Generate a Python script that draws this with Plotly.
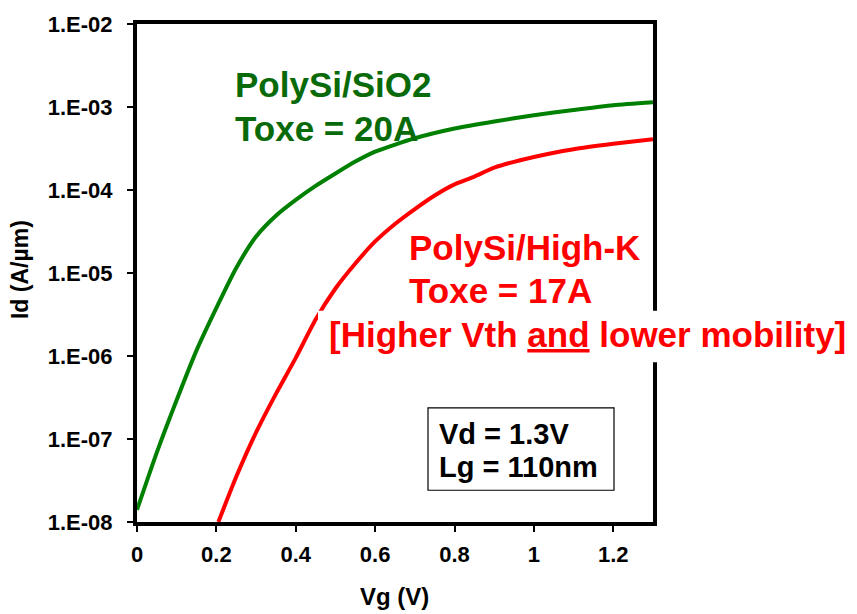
import plotly.graph_objects as go

# Transfer curves Id-Vg at Vd = 1.3 V, Lg = 110 nm
vg_sio2 = [0.0, 0.05, 0.1, 0.15, 0.2, 0.25, 0.3, 0.35, 0.4, 0.45, 0.5, 0.55,
           0.6, 0.7, 0.8, 0.9, 1.0, 1.1, 1.2, 1.3]
id_sio2 = [1.4e-8, 6.9e-8, 2.95e-7, 1.17e-6, 3.8e-6, 1.15e-5, 2.75e-5, 4.9e-5,
           7.6e-5, 1.12e-4, 1.58e-4, 2.2e-4, 2.9e-4, 4.2e-4, 5.5e-4, 6.7e-4,
           7.96e-4, 9.2e-4, 1.05e-3, 1.14e-3]

vg_highk = [0.205, 0.25, 0.3, 0.35, 0.4, 0.45, 0.5, 0.55, 0.6, 0.65, 0.7,
            0.75, 0.8, 0.85, 0.9, 1.0, 1.1, 1.2, 1.3]
id_highk = [1.0e-8, 3.5e-8, 1.2e-7, 3.5e-7, 9.5e-7, 2.75e-6, 6.5e-6, 1.3e-5,
            2.4e-5, 3.9e-5, 5.9e-5, 8.6e-5, 1.17e-4, 1.45e-4, 1.86e-4, 2.5e-4,
            3.1e-4, 3.6e-4, 4.1e-4]

x_tickvals = [0, 0.2, 0.4, 0.6, 0.8, 1.0, 1.2]
x_ticktext = ["0", "0.2", "0.4", "0.6", "0.8", "1", "1.2"]
y_tickvals = [1e-8, 1e-7, 1e-6, 1e-5, 1e-4, 1e-3, 1e-2]
y_ticktext = ["1.E-08", "1.E-07", "1.E-06", "1.E-05", "1.E-04", "1.E-03", "1.E-02"]

FONT = "Liberation Sans, Arial, sans-serif"
GREEN = "#008000"
GREEN_TEXT = "#086a08"
RED = "#ff0000"

fig = go.Figure()
fig.add_trace(go.Scatter(x=vg_sio2, y=id_sio2, mode="lines",
                         line=dict(color=GREEN, width=4, shape="spline", smoothing=0.6),
                         name="PolySi/SiO2", showlegend=False))
fig.add_trace(go.Scatter(x=vg_highk, y=id_highk, mode="lines",
                         line=dict(color=RED, width=4, shape="spline", smoothing=0.6),
                         name="PolySi/High-K", showlegend=False))

W, H = 857, 614
L, R, T, B = 137, 204, 20, 92
pw, ph = W - L - R, H - T - B


def px(x):
    return (x - L) / pw


def py(y):
    return (H - B - y) / ph


axis_common = dict(showline=True, linecolor="black", linewidth=4, mirror=True,
                   ticks="outside", ticklen=6, tickwidth=1.5, tickcolor="black",
                   showgrid=False, zeroline=False,
                   tickfont=dict(family=FONT, size=22, color="black", weight="bold"))

fig.update_xaxes(range=[0, 1.3], tickvals=x_tickvals, ticktext=x_ticktext,
                 ticklabelstandoff=4, **axis_common)
fig.update_yaxes(type="log", range=[-8, -2], tickvals=y_tickvals, ticktext=y_ticktext,
                 ticklabelstandoff=10, **axis_common)

# white panel behind the third red caption line
fig.add_shape(type="rect", xref="paper", yref="paper",
              x0=px(318), x1=px(860), y0=py(361), y1=py(309),
              fillcolor="white", line=dict(width=0), layer="above")
# parameter box
fig.add_shape(type="rect", xref="paper", yref="paper",
              x0=px(428), x1=px(614), y0=py(490), y1=py(407),
              fillcolor="white", line=dict(color="black", width=1.2), layer="above")


def label(text, x, y, size, color, anchor="left", angle=0):
    fig.add_annotation(text=text, xref="paper", yref="paper", x=px(x), y=py(y),
                       xanchor=anchor, yanchor="middle", showarrow=False,
                       textangle=angle,
                       font=dict(family=FONT, size=size, color=color, weight="bold"))


label("PolySi/SiO2", 233, 81, 35, GREEN_TEXT)
label("Toxe = 20A", 233, 125, 35, GREEN_TEXT)
label("PolySi/High-K", 407, 245, 35, RED)
label("Toxe = 17A", 407, 289, 35, RED)
label("[Higher Vth <u>and</u> lower mobility]", 327, 333, 35, RED)
label("Vd = 1.3V", 437, 433, 29, "black")
label("Lg = 110nm", 437, 467, 29, "black")

# axis titles
label("Id (A/µm)", 20, 268, 23, "black", anchor="center", angle=-90)
label("Vg (V)", 394, 597, 24, "black", anchor="center")

fig.update_layout(width=W, height=H, margin=dict(l=L, r=R, t=T, b=B),
                  plot_bgcolor="white", paper_bgcolor="white", showlegend=False)

fig.write_html("out.html")
